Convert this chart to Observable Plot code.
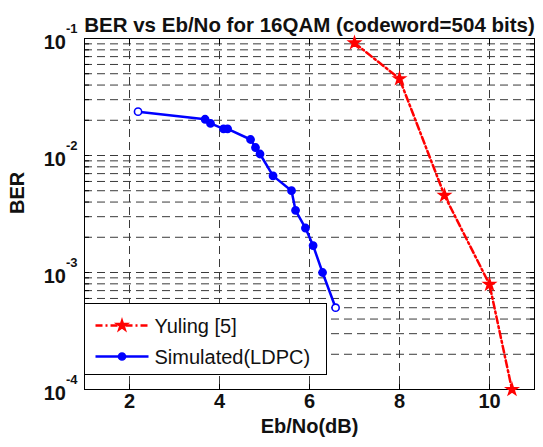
<!DOCTYPE html>
<html><head><meta charset="utf-8">
<script src="https://cdn.jsdelivr.net/npm/d3@7"></script>
<script src="https://cdn.jsdelivr.net/npm/@observablehq/plot@0.6"></script>
<style>body{margin:0;background:#fff}#wrap{width:543px;height:447px}</style>
</head><body><div id="wrap"></div>
<script>
// ---- data ----
const yulingX   = [7, 8, 9, 10, 10.5];
const yulingBER = [0.0917, 0.0453, 0.00456, 0.00079, 0.0001];
const ldpcX   = [2.19, 3.68, 3.80, 4.09, 4.18, 4.69, 4.80, 4.90, 5.19, 5.60, 5.69, 5.91, 6.08, 6.29, 6.58];
const ldpcBER = [0.0237, 0.0204, 0.0188, 0.0169, 0.0169, 0.0137, 0.0117, 0.0103, 0.0067, 0.0050, 0.0034, 0.0024, 0.0017, 0.0010, 0.0005];
const xTicks = [2, 4, 6, 8, 10];
const yDecades = [1e-1, 1e-2, 1e-3, 1e-4];
const yExponents = ["-1", "-2", "-3", "-4"];
const seriesNames = ["Yuling [5]", "Simulated(LDPC)"];
const titleText = "BER vs Eb/No for 16QAM (codeword=504 bits)";
const xLabel = "Eb/No(dB)";
const yLabel = "BER";

const yuling = yulingX.map((x, i) => ({x, y: yulingBER[i]}));
const ldpc = ldpcX.map((x, i) => ({x, y: ldpcBER[i], end: i === 0 || i === ldpcX.length - 1}));
const yDecadeRows = yDecades.map((v, i) => ({v, e: yExponents[i]}));
// minor log grid values (1..9 x each decade) inside the domain
const yGrid = [];
for (const d of [1e-4, 1e-3, 1e-2]) for (let m = 1; m <= 9; m++) yGrid.push(+(m * d).toPrecision(3));
const yGridInner = yGrid.filter(v => v > 1e-4);

const FONT = "'Liberation Sans', Arial, Helvetica, sans-serif";
const gridStyle = {stroke: "#3a3a3a", strokeWidth: 1, strokeDasharray: "8,5"};

function legendMark(index, scales, values, dim) {
  const left = (dim && dim.marginLeft) || 84;
  const g = d3.create("svg:g").attr("font-family", FONT).attr("text-anchor", "start");
  const x0 = left + 0.5, y0 = 303.5, w = 242, h = 71;
  g.append("rect").attr("x", x0).attr("y", y0).attr("width", w).attr("height", h)
    .attr("fill", "white").attr("stroke", "black").attr("stroke-width", 1);
  const rows = [
    {name: seriesNames[0], color: "red", dash: "7,3,2,3", sym: d3.symbolStar, size: 42, cy: y0 + 22},
    {name: seriesNames[1], color: "blue", dash: null, sym: d3.symbolCircle, size: 40, cy: y0 + 53}
  ];
  for (const r of rows) {
    g.append("line").attr("x1", x0 + 11).attr("x2", x0 + 64).attr("y1", r.cy).attr("y2", r.cy)
      .attr("stroke", r.color).attr("stroke-width", 2.5).attr("stroke-dasharray", r.dash);
    g.append("path").attr("d", d3.symbol(r.sym, r.size)()).attr("transform", `translate(${x0 + 37.5},${r.cy})`)
      .attr("fill", r.color).attr("stroke", r.color).attr("stroke-width", 1.5);
    g.append("text").attr("x", x0 + 70).attr("y", r.cy).attr("dy", "0.35em").attr("text-anchor", "start")
      .attr("font-size", 20).attr("fill", "#111").text(r.name);
  }
  return g.node();
}

const tickAxis = {tickSize: -5, tickFormat: () => "", stroke: "black", label: null};

const chart = Plot.plot({
  width: 543,
  height: 447,
  marginLeft: 84,
  marginRight: 9,
  marginTop: 38,
  marginBottom: 58,
  style: {fontFamily: FONT, background: "white", color: "black", overflow: "visible"},
  x: {domain: [1, 11], label: null},
  y: {type: "log", domain: [1e-4, 1e-1], label: null},
  marks: [
    Plot.ruleY(yGridInner, gridStyle),
    Plot.ruleX(xTicks, gridStyle),
    Plot.axisY({...tickAxis, anchor: "right", ticks: yGrid.concat([1e-1])}),
    Plot.axisY({...tickAxis, anchor: "left", ticks: yGrid.concat([1e-1])}),
    Plot.axisX({...tickAxis, anchor: "bottom", ticks: xTicks}),
    Plot.axisX({...tickAxis, anchor: "top", ticks: xTicks}),
    Plot.frame({stroke: "black", strokeWidth: 1}),
    // series
    Plot.line(yuling, {x: "x", y: "y", stroke: "red", strokeWidth: 2.5, strokeDasharray: "7,3,2,3"}),
    Plot.dot(yuling, {x: "x", y: "y", symbol: "star", r: 3.6, fill: "red", stroke: "red", strokeWidth: 1.5}),
    Plot.line(ldpc, {x: "x", y: "y", stroke: "blue", strokeWidth: 2.5}),
    Plot.dot(ldpc, {x: "x", y: "y", r: 3.6, fill: d => d.end ? "white" : "blue", stroke: "blue", strokeWidth: 1.6}),
    // tick labels
    Plot.text(xTicks, {x: d => d, frameAnchor: "bottom", dy: 18, text: d => String(d), fontSize: 20, fontWeight: "bold", fill: "#111"}),
    Plot.text(yDecadeRows, {y: "v", frameAnchor: "left", dx: -18.5, dy: 4, text: () => "10", textAnchor: "end", fontSize: 20, fontWeight: "bold", fill: "#111"}),
    Plot.text(yDecadeRows, {y: "v", frameAnchor: "left", dx: -18.5, dy: -10, text: "e", textAnchor: "start", fontSize: 13, fontWeight: "bold", fill: "#111"}),
    // labels
    Plot.text([xLabel], {frameAnchor: "bottom", dy: 43, text: d => d, fontSize: 20, fontWeight: "bold", fill: "#111"}),
    Plot.text([yLabel], {frameAnchor: "left", dx: -67, rotate: -90, text: d => d, fontSize: 20, fontWeight: "bold", fill: "#111"}),
    Plot.text([titleText], {frameAnchor: "top", dy: -21, dx: 0, text: d => d, fontSize: 20.5, fontWeight: "bold", fill: "#111"}),
    legendMark
  ]
});
document.getElementById("wrap").appendChild(chart);
</script>
</body></html>
